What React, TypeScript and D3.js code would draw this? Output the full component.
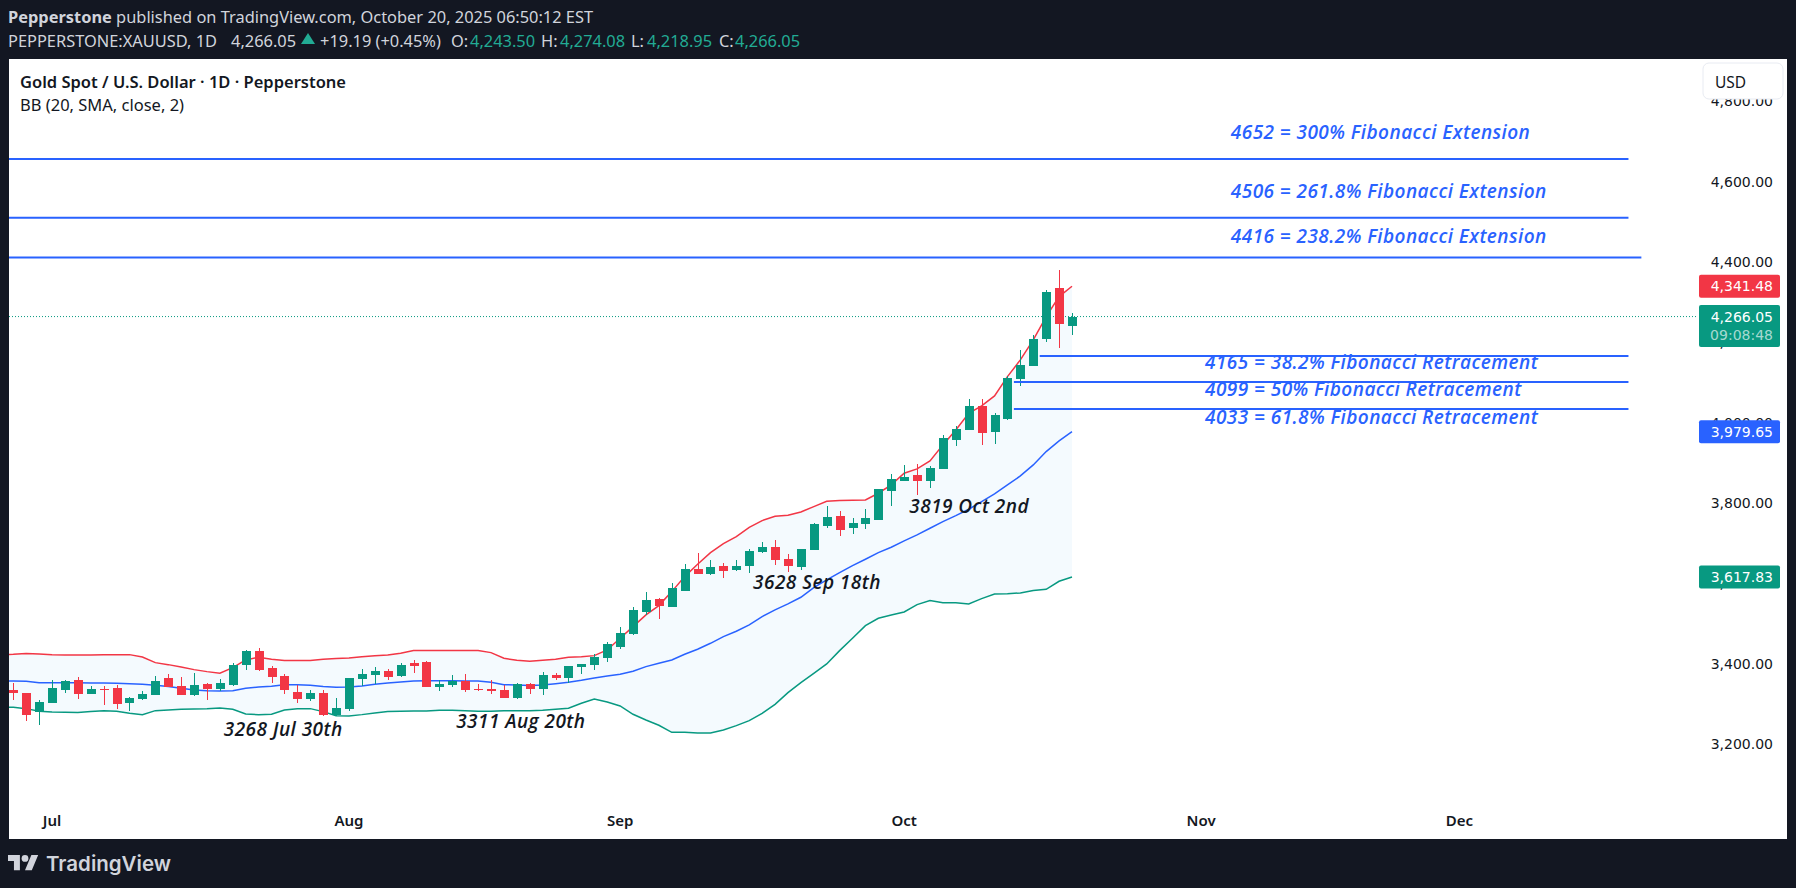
import { area, curveLinear, line, scaleLinear } from 'd3'

const opens = [
	3336.9, 3329.4, 3282.1, 3304.5, 3336.9, 3361.8, 3326.9, 3339.4, 3341.9, 3304.5, 3314.5, 3324.4, 3366.7, 3346.8, 3324.4, 3351.8, 3339.4,
	3349.3, 3399.1, 3433.9, 3391.6, 3371.7, 3331.9, 3314.5, 3329.4, 3274.7, 3289.6, 3364.3, 3374.2, 3384.2, 3371.7, 3404.1, 3406.6, 3344.3,
	3349.3, 3359.3, 3339.4, 3339.4, 3336.9, 3317, 3351.8, 3339.4, 3374.2, 3366.7, 3394.1, 3399.1, 3416.5, 3443.9, 3476.3, 3531, 3563.4,
	3543.5, 3583.3, 3638.1, 3625.6, 3645.5, 3635.6, 3645.5, 3680.4, 3692.8, 3662.9, 3643, 3685.3, 3745.1, 3770, 3740.1, 3750, 3760, 3832.2,
	3857.1, 3872, 3857.1, 3886.9, 3959.1, 3984, 4043.7, 3979, 4011.4, 4110.9, 4143.3, 4210.5, 4337.4, 4243.5,
]
const highs = [
	3355.1, 3329.4, 3312, 3360.9, 3360.9, 3369.2, 3346.8, 3346.8, 3348.5, 3319.5, 3334.4, 3371.7, 3376.7, 3369.2, 3379.2, 3354.3, 3364.3,
	3404.1, 3436.4, 3441.4, 3396.6, 3376.7, 3349.3, 3336.9, 3336.9, 3317, 3366.7, 3389.1, 3394.1, 3389.1, 3404.1, 3411.5, 3409.1, 3361.8,
	3374.2, 3376.7, 3351.8, 3361.8, 3349.3, 3354.3, 3354.3, 3381.7, 3379.2, 3396.6, 3401.6, 3426.5, 3456.3, 3493.7, 3543.5, 3580.8, 3565.9,
	3603.2, 3650.5, 3677.9, 3660.4, 3653, 3660.4, 3687.8, 3705.2, 3710.2, 3675.4, 3687.8, 3752.5, 3794.8, 3782.4, 3765, 3787.4, 3837.1, 3874.5,
	3896.9, 3899.4, 3894.4, 3971.6, 3994, 4061.2, 4061.2, 4026.3, 4118.4, 4183.1, 4220.4, 4332.4, 4382.2, 4274.08,
]
const lows = [
	3312, 3259.7, 3249.8, 3304.5, 3329.4, 3314.5, 3326.9, 3299.6, 3289.6, 3284.6, 3312, 3324.4, 3344.3, 3324.4, 3322, 3312, 3334.4,
	3346.8, 3386.7, 3384.2, 3354.3, 3326.9, 3304.5, 3309.5, 3272.2, 3272.2, 3284.6, 3346.8, 3351.8, 3361.8, 3369.2, 3379.2, 3344.3, 3334.4,
	3344.3, 3331.9, 3334.4, 3326.9, 3317, 3314.5, 3326.9, 3324.4, 3361.8, 3354.3, 3376.7, 3386.7, 3406.6, 3438.9, 3473.8, 3523.6, 3513.6,
	3543.5, 3583.3, 3625.6, 3623.1, 3615.6, 3633.1, 3628.1, 3677.9, 3648, 3630.6, 3635.6, 3685.3, 3740.1, 3720.2, 3725.2, 3737.6, 3760, 3794.8,
	3857.1, 3822.2, 3839.7, 3886.9, 3944.2, 3984, 3946.7, 3949.2, 4008.9, 4093.5, 4143.3, 4203, 4188.1, 4218.95,
]
const closes = [
	3329.4, 3274.7, 3307, 3341.9, 3359.3, 3326.9, 3339.4, 3336.9, 3302, 3317, 3326.9, 3359.3, 3344.3, 3324.4, 3349.3, 3339.4, 3354.3,
	3399.1, 3433.9, 3386.7, 3369.2, 3336.9, 3314.5, 3329.4, 3274.7, 3292.1, 3366.7, 3376.7, 3384.2, 3369.2, 3399.1, 3396.6, 3344.3, 3351.8,
	3359.3, 3336.9, 3336.9, 3334.4, 3317, 3351.8, 3339.4, 3374.2, 3366.7, 3396.6, 3401.6, 3419, 3451.4, 3478.7, 3536, 3560.9, 3546,
	3590.8, 3638.1, 3625.6, 3643, 3633.1, 3645.5, 3682.8, 3692.8, 3660.4, 3645.5, 3687.8, 3750, 3767.5, 3735.1, 3752.5, 3765, 3837.1, 3862,
	3867, 3857.1, 3889.4, 3964.1, 3986.5, 4043.7, 3976.5, 4021.3, 4113.4, 4145.8, 4210.5, 4327.5, 4247.8, 4266.05,
]

// the bands start one bar earlier than the candles, that bar is cut off by the pane edge
const bbUpper = [
	3424.8, 3425.6, 3427.3, 3426.5, 3424.8, 3424, 3424, 3424, 3424.4, 3424.8, 3424.8, 3419, 3404.9, 3399.9, 3394.1, 3387.5, 3382.5, 3378.4,
	3392.5, 3411.5, 3418.2, 3413.2, 3409.9, 3409.9, 3409.9, 3413.2, 3414.9, 3416.5, 3419.8, 3422.3, 3424, 3428.1, 3434.8, 3434.8, 3434.8, 3434.8,
	3434.8, 3434.8, 3429.8, 3415.7, 3410.7, 3408.2, 3410.7, 3413.2, 3418.2, 3419.8, 3422.3, 3436.4, 3465.5, 3494.5, 3523.6, 3546.8, 3581.6,
	3619, 3649.7, 3678.7, 3701.1, 3718.5, 3741.7, 3758.3, 3769.1, 3771.6, 3779.9, 3793.2, 3806.5, 3808.1, 3808.9, 3809.8, 3826.4, 3847.1,
	3876.2, 3886.9, 3906.9, 3946.7, 3984, 4025.5, 4043.7, 4068.6, 4116.7, 4158.2, 4208, 4266, 4315.8, 4341.48,
]
const bbBasis = [
	3359.3, 3359.3, 3358.4, 3355.1, 3355.1, 3355.1, 3355.1, 3354.3, 3354.3, 3353.5, 3352.6, 3351, 3348.5, 3345.2, 3341, 3336.9, 3335.2, 3334.4,
	3335.2, 3341, 3344.3, 3346, 3350.1, 3350.1, 3348.5, 3345.2, 3343.5, 3344.3, 3346.8, 3351, 3354.3, 3356.8, 3359.3, 3360.1, 3360.1, 3360.1,
	3359.3, 3359.3, 3356, 3350.1, 3349.3, 3347.7, 3349.3, 3352.6, 3356, 3360.9, 3366.7, 3371.7, 3375.9, 3383.3, 3395, 3403.2, 3411.5,
	3425.6, 3438.1, 3453, 3469.6, 3482.9, 3498.7, 3519.4, 3536, 3551, 3567.5, 3591.6, 3610.7, 3628.9, 3646.3, 3662.1, 3678.7, 3692,
	3707.8, 3722.7, 3739.3, 3755.9, 3770.8, 3786.6, 3805.6, 3824.7, 3847.1, 3869.5, 3896.9, 3930.1, 3956.6, 3979.65,
]
const bbLower = [
	3294.6, 3293.8, 3290.4, 3283.8, 3282.1, 3281.3, 3280.5, 3283, 3285.4, 3283.8, 3278.8, 3275.5, 3285.4, 3287.1, 3288.8, 3289.6, 3290.4, 3292.1,
	3288.8, 3277.1, 3275.5, 3276.3, 3287.1, 3290.4, 3290.4, 3283, 3273, 3272.2, 3275.5, 3279.6, 3283, 3283.8, 3284.6, 3284.6, 3286.3, 3286.3,
	3285.4, 3283.8, 3283.8, 3285.4, 3285.4, 3285.4, 3286.3, 3288.8, 3291.3, 3303.7, 3314.5, 3307, 3297, 3276.3, 3262.2, 3249, 3231.5,
	3231.5, 3229.9, 3229.8, 3237.3, 3248.1, 3260.5, 3278.8, 3301.2, 3330.2, 3355.1, 3378.3, 3401.6, 3434.7, 3465.4, 3497, 3515.2, 3523.5,
	3531, 3549.2, 3559.2, 3554.2, 3554.2, 3550.9, 3564.2, 3575.8, 3576.6, 3578.3, 3584.1, 3587.4, 3607.3, 3617.83,
]

const priceTicks = [3200, 3400, 3600, 3800, 4000, 4200, 4400, 4600, 4800]
const monthLabels = ['Jul', 'Aug', 'Sep', 'Oct', 'Nov', 'Dec']
const monthBars = [3, 26, 47, 69, 92, 112]

const fibLevels = [4658, 4512, 4413, 4168, 4103, 4036]
const fibFrom = [-1, -1, -1, 79.5, 77.5, 77.5]
const fibTo = [125.1, 125.1, 126.1, 125.1, 125.1, 125.1]
const fibLabels = [
	'4652 = 300% Fibonacci Extension',
	'4506 = 261.8% Fibonacci Extension',
	'4416 = 238.2% Fibonacci Extension',
	'4165 = 38.2% Fibonacci Retracement',
	'4099 = 50% Fibonacci Retracement',
	'4033 = 61.8% Fibonacci Retracement',
]
const fibLabelBar = [94.3, 94.3, 94.3, 92.3, 92.3, 92.3]
const fibLabelPrice = [4726, 4577, 4467, 4152, 4085, 4015]

const swingLabels = ['3268 Jul 30th', '3311 Aug 20th', '3628 Sep 18th', '3819 Oct 2nd']
const swingBar = [16.3, 34.3, 57.3, 69.4]
const swingPrice = [3240, 3258, 3604, 3794]

const lastPrice = 4266.05
const upperLast = 4341.48
const basisLast = 3979.65
const lowerLast = 3617.83

const GREEN = '#089981'
const RED = '#F23645'
const BLUE = '#2962FF'
const BAND = '#2196F3'
const BG = '#131722'
const UI_FONT = '"Noto Sans", sans-serif'
const DRAW_FONT = '"Open Sans", sans-serif'
const AXIS_FONT = '"DejaVu Sans", sans-serif'

const pane = { left: 9, right: 1787, top: 59, bottom: 839 }

function PriceTag({ y, color, text, height = 23 }: { y: number; color: string; text: string; height?: number }) {
	return (
		<g>
			<rect x={1699} y={y - 11.5} width={81} height={height} rx={2} fill={color} />
			<text x={1773} y={y} dy="0.36em" textAnchor="end" fontSize={14} fontFamily={AXIS_FONT} fill="#fff">
				{text}
			</text>
		</g>
	)
}

export default function App() {
	const x = scaleLinear().domain([0, 82]).range([13.3, 1072])
	const y = scaleLinear().domain([2966, 4907]).range([pane.bottom, pane.top])
	const bbX = (i: number) => x(i - 1)

	const bandLine = line<number>().x((_, i) => bbX(i)).y((d) => y(d))
	const bandArea = area<number>()
		.x((_, i) => bbX(i))
		.y0((_, i) => y(bbLower[i]))
		.y1((d) => y(d))
		.curve(curveLinear)

	return (
		<svg
			width={1796}
			height={888}
			viewBox="0 0 1796 888"
			style={{ position: 'absolute', left: 0, top: 0, display: 'block' }}
			role="img"
			aria-label="Gold spot daily candlestick chart with Bollinger Bands and Fibonacci levels"
		>
			<defs>
				<clipPath id="pane">
					<rect x={pane.left} y={pane.top} width={pane.right - pane.left} height={pane.bottom - pane.top} />
				</clipPath>
			</defs>

			<rect width={1796} height={888} fill={BG} />
			<rect x={pane.left} y={pane.top} width={pane.right - pane.left} height={pane.bottom - pane.top} fill="#fff" />

			<g fontFamily={UI_FONT} fontSize={16.4} fill="#d1d4dc">
				<text x={8} y={17} dy="0.36em">
					<tspan fontWeight={700}>Pepperstone</tspan> published on TradingView.com, October 20, 2025 06:50:12 EST
				</text>
				<text x={8} y={41} dy="0.36em">PEPPERSTONE:XAUUSD, 1D</text>
				<text x={231} y={41} dy="0.36em">4,266.05</text>
				<polygon points="301,44 308,33 315,44" fill="#22ab94" />
				<text x={320} y={41} dy="0.36em">+19.19 (+0.45%)</text>
				<text x={451} y={41} dy="0.36em">O:</text>
				<text x={470} y={41} dy="0.36em" fill="#22ab94">4,243.50</text>
				<text x={541} y={41} dy="0.36em">H:</text>
				<text x={560} y={41} dy="0.36em" fill="#22ab94">4,274.08</text>
				<text x={631} y={41} dy="0.36em">L:</text>
				<text x={647} y={41} dy="0.36em" fill="#22ab94">4,218.95</text>
				<text x={719} y={41} dy="0.36em">C:</text>
				<text x={735} y={41} dy="0.36em" fill="#22ab94">4,266.05</text>
			</g>

			<g clipPath="url(#pane)">
				<path d={bandArea(bbUpper) ?? ''} fill={BAND} fillOpacity={0.05} />
				<path d={bandLine(bbUpper) ?? ''} fill="none" stroke={RED} strokeWidth={1.5} />
				<path d={bandLine(bbBasis) ?? ''} fill="none" stroke={BLUE} strokeWidth={1.5} />
				<path d={bandLine(bbLower) ?? ''} fill="none" stroke={GREEN} strokeWidth={1.5} />

				<line
					x1={pane.left}
					x2={1696}
					y1={y(lastPrice)}
					y2={y(lastPrice)}
					stroke={GREEN}
					strokeWidth={1}
					strokeDasharray="1 2"
				/>

				{opens.map((open, i) => {
					const color = closes[i] >= open ? GREEN : RED
					const cx = Math.round(x(i))
					const bodyTop = y(Math.max(open, closes[i]))
					const bodyBottom = y(Math.min(open, closes[i]))
					return (
						<g key={i} fill={color} shapeRendering="crispEdges">
							<rect x={cx} y={y(highs[i])} width={1} height={y(lows[i]) - y(highs[i])} />
							<rect x={cx - 4} y={bodyTop} width={9} height={Math.max(1, bodyBottom - bodyTop)} />
						</g>
					)
				})}

				{fibLevels.map((level, i) => (
					<line key={level} x1={x(fibFrom[i])} x2={x(fibTo[i])} y1={y(level)} y2={y(level)} stroke={BLUE} strokeWidth={2} />
				))}
			</g>

			<g fontFamily={DRAW_FONT} fontStyle="italic" fontWeight={600} fontSize={19} letterSpacing={0.45}>
				{fibLabels.map((label, i) => (
					<text key={label} x={x(fibLabelBar[i])} y={y(fibLabelPrice[i])} dy="0.36em" fill={BLUE}>
						{label}
					</text>
				))}
				{swingLabels.map((label, i) => (
					<text key={label} x={x(swingBar[i])} y={y(swingPrice[i])} dy="0.36em" fill="#131722">
						{label}
					</text>
				))}
			</g>

			<g fontFamily={UI_FONT} fill="#131722">
				<text x={20} y={82} dy="0.36em" fontSize={16.5} fontWeight={600}>Gold Spot / U.S. Dollar · 1D · Pepperstone</text>
				<text x={20} y={105} dy="0.36em" fontSize={16.5}>BB (20, SMA, close, 2)</text>
			</g>

			<g fontFamily={AXIS_FONT} fontSize={14} fill="#131722">
				{priceTicks.map((tick) => (
					<text key={tick} x={1773} y={y(tick)} dy="0.3em" textAnchor="end">
						{tick.toLocaleString('en-US', { minimumFractionDigits: 2 })}
					</text>
				))}
			</g>
			<g fontFamily={UI_FONT} fontSize={15} fontWeight={600} fill="#131722">
				{monthLabels.map((label, i) => (
					<text key={label} x={x(monthBars[i])} y={821} dy="0.36em" textAnchor="middle">
						{label}
					</text>
				))}
			</g>

			<rect x={1703} y={63} width={80} height={36} rx={6} fill="#fff" stroke="#e8ebf2" strokeWidth={1} />
			<text x={1715} y={82} dy="0.36em" fontFamily={UI_FONT} fontSize={15.5} fill="#131722">USD</text>

			<PriceTag y={y(upperLast)} color={RED} text="4,341.48" />
			<g>
				<rect x={1699} y={305} width={81} height={42} rx={2} fill={GREEN} />
				<text x={1773} y={y(lastPrice)} dy="0.36em" textAnchor="end" fontSize={14} fontFamily={AXIS_FONT} fill="#fff">4,266.05</text>
				<text x={1773} y={335} dy="0.36em" textAnchor="end" fontSize={14} fontFamily={AXIS_FONT} fill="#fff" fillOpacity={0.65}>09:08:48</text>
			</g>
			<PriceTag y={y(basisLast)} color={BLUE} text="3,979.65" />
			<PriceTag y={y(lowerLast)} color={GREEN} text="3,617.83" />

			<g transform="translate(8 851.6) scale(0.85)" fill="#d1d4dc">
				<path d="M14 22H7V11H0V4h14v18zM28 22h-8l7.5-18h8L28 22z" />
				<circle cx={20} cy={8} r={4} />
			</g>
			<text x={46} y={864} dy="0.36em" fontFamily="Inter, sans-serif" fontSize={20.5} fontWeight={600} fill="#d1d4dc">TradingView</text>
		</svg>
	)
}
